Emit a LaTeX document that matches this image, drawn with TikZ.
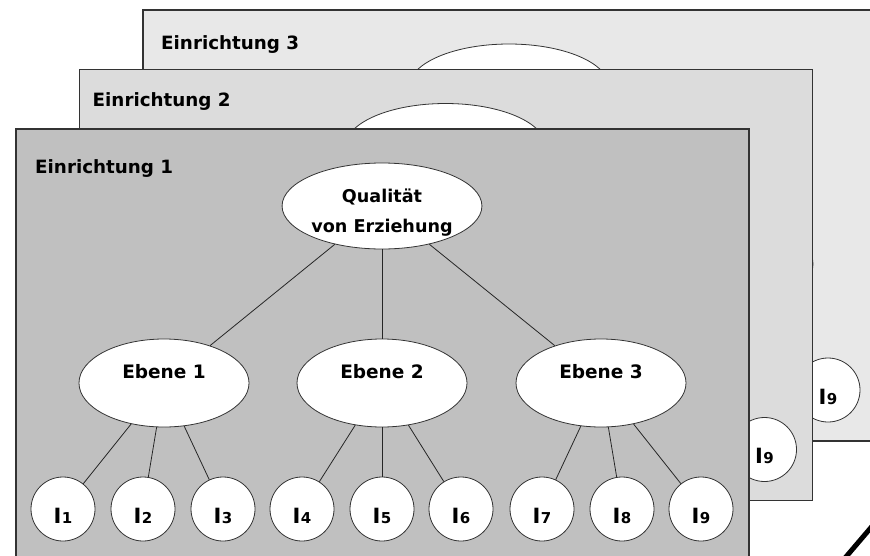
\documentclass[tikz,border=0pt]{standalone}
\usepackage{fontspec}
\setmainfont{DejaVu Sans}
\usetikzlibrary{shapes.geometric}

\definecolor{blatt1}{HTML}{C0C0C0}
\definecolor{blatt2}{HTML}{DCDCDC}
\definecolor{blatt3}{HTML}{E8E8E8}

% Indikator mit kleiner Ziffer
\newcommand{\indi}[1]{I\kern0.5pt{\fontsize{15}{15}\selectfont #1}}
% Stuetze, die den Text in der Wurzel nach unten schiebt
\newcommand{\hoch}{\rule{0pt}{27pt}}

\begin{document}
\begin{tikzpicture}[
    x=1pt, y=-1pt,
    % Stil fuer die Blaetter (eine Einrichtung pro Blatt)
    blatt/.style={
        draw=black!80,
        line width=1.3pt
    },
    % Stil fuer die Wurzel
    wurzel/.style={
        ellipse,
        draw=black!80,
        fill=white,
        line width=0.8pt,
        minimum width=196pt,
        minimum height=86pt,
        inner sep=0pt,
        align=center,
        font=\bfseries\fontsize{17.6}{30}\selectfont
    },
    % Stil fuer die Ebenen
    ebene/.style={
        ellipse,
        draw=black!80,
        fill=white,
        line width=0.8pt,
        minimum width=170pt,
        minimum height=88pt,
        inner sep=0pt,
        text height=13pt,
        text depth=23pt,
        font=\bfseries\fontsize{18.5}{20}\selectfont
    },
    % Stil fuer die Indikatoren
    indikator/.style={
        circle,
        draw=black!80,
        fill=white,
        line width=0.8pt,
        minimum size=64pt,
        inner sep=0pt,
        text height=28pt,
        text depth=0pt,
        font=\bfseries\fontsize{21}{21}\selectfont
    },
    kante/.style={draw=black!85, line width=0.8pt},
    titel/.style={anchor=base west, inner sep=0pt, font=\bfseries\fontsize{18.3}{20}\selectfont}
]

    \useasboundingbox (0,0) rectangle (870,555);
    \clip (0,0) rectangle (870,555);

    % --- BLAETTER (hinten nach vorne) ---
    \foreach \k/\tx/\ty in {3/18/39, 2/13/37, 1/19/44} {
    \begin{scope}[shift={({63.5*(\k-1)},{-59.5*(\k-1)})}]
        \draw[blatt, fill=blatt\k] (16,129) rectangle (749,560);
        \node[titel] (t\k) at ({16+\tx},{129+\ty}) {Einrichtung \k};

        % Wurzel und Ebenen
        \node[wurzel] (q\k) at (382,206) {\hoch Qualität\\von Erziehung};
        \node[ebene] (e\k-1) at (164,383) {Ebene 1};
        \node[ebene] (e\k-2) at (382,383) {Ebene 2};
        \node[ebene] (e\k-3) at (601,383) {Ebene 3};

        \foreach \e in {1,2,3}
            \draw[kante] (q\k) -- (e\k-\e);

        % Indikatoren I1 bis I9
        \foreach \i/\x/\p in {1/63/1, 2/143/1, 3/223/1,
                              4/302/2, 5/382/2, 6/461/2,
                              7/542/3, 8/622/3, 9/701/3} {
            \node[indikator] (i\k-\i) at (\x,509) {\indi{\i}};
            \draw[kante] (e\k-\p) -- (i\k-\i);
        }
    \end{scope}
    }

    % dicker Strich unten rechts
    \coordinate (strichA) at (845,558);
    \coordinate (strichB) at (874,524);
    \draw[line width=5pt] (strichA) -- (strichB);

\end{tikzpicture}
\end{document}
